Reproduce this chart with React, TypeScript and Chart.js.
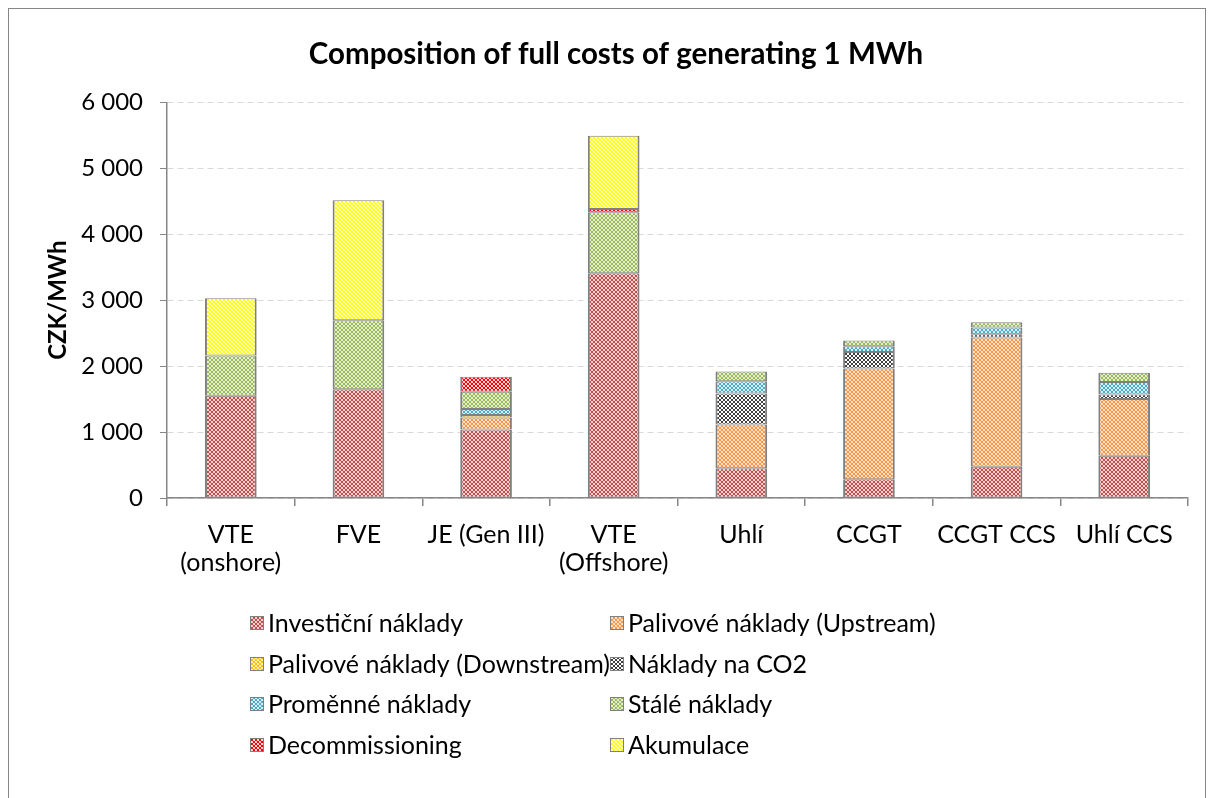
import React, { useEffect, useRef } from 'react';
import { Chart, registerables } from 'chart.js';

Chart.register(...registerables);

const categories: (string | string[])[] = [
  ['VTE', '(onshore)'],
  'FVE',
  'JE (Gen III)',
  ['VTE', '(Offshore)'],
  'Uhlí',
  'CCGT',
  'CCGT CCS',
  'Uhlí CCS',
];

const investicni = [1550, 1650, 1040, 3410, 450, 285, 475, 640];
const upstream = [0, 0, 180, 0, 665, 1680, 1960, 860];
const downstream = [0, 0, 40, 0, 0, 0, 0, 0];
const co2 = [0, 0, 0, 0, 470, 250, 50, 70];
const promenne = [0, 0, 90, 0, 185, 85, 100, 190];
const stale = [610, 1045, 260, 925, 150, 90, 80, 140];
const decommissioning = [0, 0, 230, 50, 0, 0, 0, 0];
const akumulace = [870, 1820, 0, 1110, 0, 0, 0, 0];

const seriesLabels = [
  'Investiční náklady',
  'Palivové náklady (Upstream)',
  'Palivové náklady (Downstream)',
  'Náklady na CO2',
  'Proměnné náklady',
  'Stálé náklady',
  'Decommissioning',
  'Akumulace',
];
const seriesValues = [investicni, upstream, downstream, co2, promenne, stale, decommissioning, akumulace];
const seriesColors: [string, string][] = [
  ['#C0504D', '#F3CFCE'],
  ['#F79646', '#FDE0C8'],
  ['#FFC000', '#FFF0B8'],
  ['#404040', '#FFFFFF'],
  ['#4BACC6', '#D6EFF6'],
  ['#9BBB59', '#E3EDCF'],
  ['#FF0000', '#FFD6D6'],
  ['#FFFF00', '#FFFFC8'],
];

const yTicks = [0, 1000, 2000, 3000, 4000, 5000, 6000];

const FONT = 'Lato';

function makePattern(fg: string, bg: string): CanvasPattern | string {
  const c = document.createElement('canvas');
  c.width = 4;
  c.height = 4;
  const x = c.getContext('2d');
  if (!x) return fg;
  x.fillStyle = bg;
  x.fillRect(0, 0, 4, 4);
  x.fillStyle = fg;
  x.fillRect(0, 0, 2, 2);
  x.fillRect(2, 2, 2, 2);
  return x.createPattern(c, 'repeat') || fg;
}

function fmt(v: number): string {
  return String(v).replace(/\B(?=(\d{3})+(?!\d))/g, ' ');
}

const gridLegend = {
  id: 'gridLegend',
  afterDraw(chart: any) {
    const ctx = chart.ctx as CanvasRenderingContext2D;
    const ds = chart.data.datasets;
    ctx.save();
    ctx.font = `25px ${FONT}`;
    ctx.textBaseline = 'middle';
    ctx.textAlign = 'left';
    ds.forEach((d: any, i: number) => {
      const col = i % 2;
      const row = Math.floor(i / 2);
      const bx = col === 0 ? 241 : 601;
      const cy = Math.round(614 + row * 40.7);
      ctx.fillStyle = d.backgroundColor;
      ctx.fillRect(bx, cy - 7, 14, 14);
      ctx.strokeStyle = '#808080';
      ctx.lineWidth = 1;
      ctx.strokeRect(bx + 0.5, cy - 6.5, 13, 13);
      ctx.fillStyle = '#000000';
      ctx.fillText(d.label, bx + 18, cy + 1);
    });
    ctx.restore();
  },
};

export default function App() {
  const ref = useRef<HTMLCanvasElement | null>(null);

  useEffect(() => {
    if (!ref.current) return;
    const datasets = seriesLabels.map((label, i) => ({
      label,
      data: seriesValues[i],
      backgroundColor: makePattern(seriesColors[i][0], seriesColors[i][1]) as any,
      borderColor: '#808080',
      borderWidth: { left: 2, right: 2, top: 1, bottom: 1 },
      borderSkipped: false as any,
      barPercentage: 0.405,
      categoryPercentage: 1,
    }));

    const chart = new Chart(ref.current, {
      type: 'bar',
      data: { labels: categories as any, datasets },
      options: {
        responsive: false,
        animation: false,
        layout: { padding: { left: 35, right: 17, top: 0, bottom: 200 } },
        plugins: {
          legend: { display: false },
          tooltip: { enabled: false },
          title: {
            display: true,
            text: 'Composition of full costs of generating 1 MWh',
            font: { family: FONT, size: 29.5, weight: 'bold' },
            color: '#000000',
            padding: { top: 28, bottom: 30 },
          },
        },
        scales: {
          x: {
            stacked: true,
            grid: {
              display: true,
              drawOnChartArea: false,
              drawTicks: true,
              tickLength: 8,
              color: '#868686',
              tickColor: '#868686',
              lineWidth: 1.5,
              offset: true,
            },
            border: { color: '#868686', width: 1.5 },
            ticks: {
              font: { family: FONT, size: 25, lineHeight: 1.12 },
              color: '#000000',
              padding: 15,
              maxRotation: 0,
              autoSkip: false,
            },
            afterFit: (s: any) => {
              s.height = 100;
            },
          },
          y: {
            stacked: true,
            min: 0,
            max: 6000,
            afterBuildTicks: (s: any) => {
              s.ticks = yTicks.map((v) => ({ value: v }));
            },
            ticks: {
              font: { family: FONT, size: 24 },
              color: '#000000',
              padding: 17,
              callback: (v: any) => fmt(Number(v)),
            },
            grid: {
              color: '#D9D9D9',
              tickColor: '#868686',
              tickLength: 7,
              lineWidth: 1,
              tickBorderDash: [],
            },
            border: { color: '#868686', width: 1.5, dash: [6, 4] },
            title: {
              display: true,
              text: 'CZK/MWh',
              font: { family: FONT, size: 24, weight: 'bold' },
              color: '#000000',
              padding: 0,
            },
            afterFit: (s: any) => {
              s.width = 123;
            },
          },
        },
      },
      plugins: [gridLegend],
    });
    return () => chart.destroy();
  }, []);

  return (
    <div
      style={{
        width: 1196,
        height: 789,
        border: '1px solid #868686',
        background: '#ffffff',
      }}
    >
      <canvas ref={ref} width={1196} height={789} style={{ display: 'block' }} />
    </div>
  );
}
